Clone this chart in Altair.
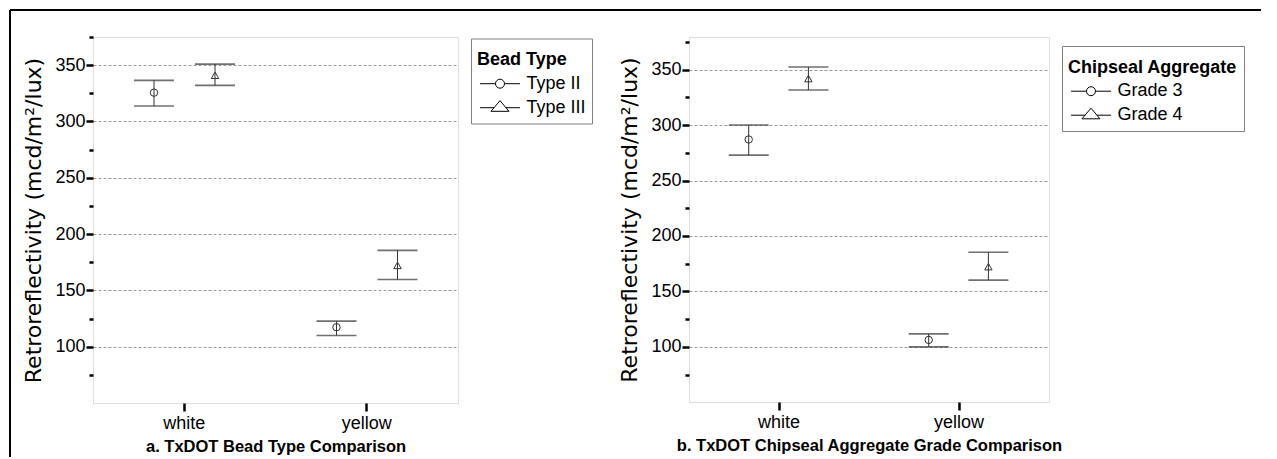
import altair as alt
import pandas as pd

# ---------------- data ----------------
colors = ["white", "yellow"]

bead_types = ["Type II", "Type III"]
bead_mean = {"Type II": [325.6, 117.3], "Type III": [341.0, 172.2]}
bead_low = {"Type II": [313.7, 110.0], "Type III": [332.0, 159.6]}
bead_high = {"Type II": [336.5, 122.7], "Type III": [350.9, 185.5]}

grades = ["Grade 3", "Grade 4"]
grade_mean = {"Grade 3": [287.0, 106.3], "Grade 4": [341.9, 172.3]}
grade_low = {"Grade 3": [272.9, 100.0], "Grade 4": [331.6, 160.2]}
grade_high = {"Grade 3": [300.0, 111.7], "Grade 4": [352.4, 185.3]}

major_ticks = [100, 150, 200, 250, 300, 350]
minor_ticks = [75, 125, 175, 225, 275, 325, 375]

Y_TITLE = "Retroreflectivity (mcd/m²/lux)"
FONT = "Liberation Sans"
INK = "#333333"

# legend glyphs: a line with the marker on it (units of 6 px, centre 6 px in)
CIRCLE_PATH = ("M-1,0L1.58,0M3.08,0L5.67,0"
               "M3.08,0A0.75,0.75,0,1,1,1.58,0A0.75,0.75,0,1,1,3.08,0")
TRI_PATH = ("M-1,0L1.34,0M3.32,0L5.67,0"
            "M2.33,-1.17L3.83,0.6L0.83,0.6Z")


def build_df(groups, mean, low, high):
    rows = []
    for g in groups:
        for i, c in enumerate(colors):
            rows.append({"color": c, "group": g, "mean": mean[g][i],
                         "low": low[g][i], "high": high[g][i]})
    return pd.DataFrame(rows)


def panel(df, groups, legend_title, caption, width, height, ydomain,
          off_range, legend_x, legend_y, frame=False):
    x = alt.X("color:N", sort=colors,
              scale=alt.Scale(paddingInner=0, paddingOuter=0),
              axis=alt.Axis(title=caption, labelAngle=0, domain=False,
                            tickColor="black", tickWidth=2.5, tickSize=8,
                            labelFontSize=18, labelFont=FONT, labelColor="black",
                            labelPadding=3,
                            titleFont=FONT, titleFontSize=16.5,
                            titleFontWeight="bold", titleColor="black",
                            titlePadding=6))
    xoff = alt.XOffset("group:N", sort=groups,
                       scale=alt.Scale(type="point", domain=groups,
                                       range=off_range, padding=0))
    y_scale = alt.Scale(domain=ydomain, nice=False, zero=False)
    y_axis = alt.Axis(title=Y_TITLE, values=major_ticks, domain=False,
                      orient="left",
                      grid=True, gridDash=[3, 2], gridColor="#9a9a9a",
                      gridWidth=1,
                      tickColor="black", tickWidth=2.5, tickSize=7,
                      labelFontSize=18, labelFont=FONT, labelColor="black",
                      labelPadding=1,
                      titleFont="DejaVu Sans", titleFontSize=22,
                      titleFontWeight="normal",
                      titleColor="black", titlePadding=9)
    minor_axis = alt.Axis(title="", values=minor_ticks, domain=False,
                          orient="left", grid=False, labels=False,
                          tickColor="black", tickWidth=2.5, tickSize=4)

    base = alt.Chart(df)
    stems = base.mark_rule(color=INK, strokeWidth=1).encode(
        x=x, xOffset=xoff,
        y=alt.Y("low:Q", scale=y_scale, axis=y_axis), y2="high:Q")
    minor = base.transform_filter("false").mark_point(opacity=0).encode(
        y=alt.Y("mean:Q", scale=y_scale, axis=minor_axis))
    caps_hi = base.mark_tick(color=INK, thickness=1.6, size=40,
                             orient="horizontal").encode(
        x=x, xOffset=xoff, y=alt.Y("high:Q", scale=y_scale, axis=y_axis))
    caps_lo = base.mark_tick(color=INK, thickness=1.6, size=40,
                             orient="horizontal").encode(
        x=x, xOffset=xoff, y=alt.Y("low:Q", scale=y_scale, axis=y_axis))
    pts = base.mark_point(filled=False, color=INK, strokeWidth=1,
                          size=55, opacity=1).encode(
        x=x, xOffset=xoff, y=alt.Y("mean:Q", scale=y_scale, axis=y_axis),
        shape=alt.Shape("group:N", sort=groups,
                        scale=alt.Scale(domain=groups,
                                        range=["circle", "triangle-up"]),
                        legend=None))
    main = alt.layer(stems, caps_hi, caps_lo, pts)
    # legend-only layer: no rows survive the filter, entries come from the domain
    leg = base.transform_filter("false").mark_point(
        filled=False, color="black", strokeWidth=1, opacity=1).encode(
        shape=alt.Shape("group:N", sort=groups,
                        scale=alt.Scale(domain=groups,
                                        range=[CIRCLE_PATH, TRI_PATH]),
                        legend=alt.Legend(
                            title=["", legend_title], titleLineHeight=6.7,
                            orient="none",
                            legendX=legend_x, legendY=legend_y,
                            strokeColor="#808080", fillColor="white",
                            padding=6,
                            titleFont=FONT, titleFontSize=18,
                            titleFontWeight="bold", titleColor="black",
                            titlePadding=5.5,
                            labelFont=FONT, labelFontSize=18,
                            labelColor="black", labelOffset=31.5,
                            symbolSize=144, rowPadding=5,
                            symbolStrokeColor="black",
                            symbolFillColor="transparent",
                            symbolStrokeWidth=1)))
    layers = [main, minor, leg]
    if frame:
        fr_top = alt.Chart(df.head(1)).mark_rule(
            color="black", strokeWidth=2, clip=False).encode(
            x=alt.value(-83), x2=alt.value(1168), y=alt.value(-27))
        fr_left = alt.Chart(df.head(1)).mark_rule(
            color="black", strokeWidth=2, clip=False).encode(
            x=alt.value(-83), y=alt.value(-27), y2=alt.value(420))
        layers += [fr_top, fr_left]
    return alt.layer(*layers).resolve_scale(shape="independent").resolve_axis(
        y="independent").properties(width=width, height=height)


left_df = build_df(bead_types, bead_mean, bead_low, bead_high)
right_df = build_df(grades, grade_mean, grade_low, grade_high)

left = panel(left_df, bead_types, "Bead Type",
             "a. TxDOT Bead Type Comparison", 365, 366, [50, 375],
             [61.0, 122.0], 378, 1.5, frame=True)
right = panel(right_df, grades, "Chipseal Aggregate",
              "b. TxDOT Chipseal Aggregate Grade Comparison", 360, 365,
              [50.3, 379.4], [59.7, 119.4], 373, 9)

chart = alt.hconcat(left, right, spacing=231, bounds="flush").resolve_scale(
    shape="independent", xOffset="independent", x="independent",
    y="independent").properties(padding=0).configure_view(
    stroke="#8c8c8c", strokeWidth=1).configure(background="white")

chart.save("out.html", embed_options={"renderer": "svg", "actions": False})
